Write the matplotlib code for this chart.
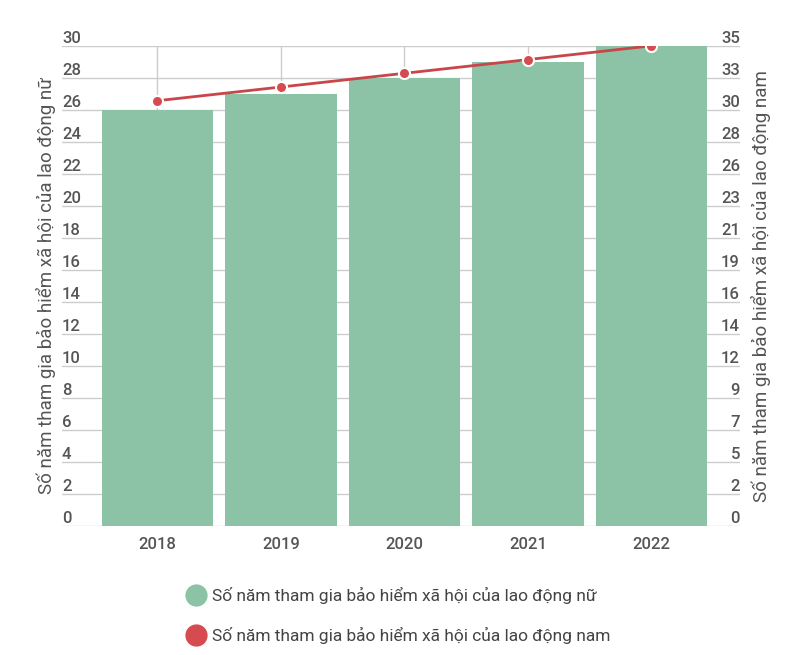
import numpy as np
import matplotlib.pyplot as plt
from matplotlib.lines import Line2D

plt.rcParams['font.family'] = ['Roboto', 'DejaVu Sans']

years = ['2018', '2019', '2020', '2021', '2022']
nu = [26, 27, 28, 29, 30]      # lao động nữ
nam = [31, 32, 33, 34, 35]     # lao động nam
left_ticks = np.arange(0, 31, 2)
right_ticks = np.linspace(0, 35, 16)

label_nu = 'Số năm tham gia bảo hiểm xã hội của lao động nữ'
label_nam = 'Số năm tham gia bảo hiểm xã hội của lao động nam'

green = '#8cc2a6'
red = '#d64b4f'
txt = '#555555'
grid = '#cccccc'

fig = plt.figure(figsize=(8, 6.55), dpi=100)
ax = fig.add_axes([0.0775, 0.197, 0.8475, 0.733])
x = np.arange(len(years))

ax.bar(x, nu, width=0.9, color=green, zorder=2)
ax.set_xlim(-0.773, 4.717)
ax.set_ylim(0, 30)
ax.set_yticks(left_ticks)
ax.set_xticks(x)
ax.set_xticklabels(years)
ax.grid(True, color=grid, linewidth=1, zorder=0)
ax.set_axisbelow(True)
for s in ax.spines.values():
    s.set_visible(False)
ax.tick_params(axis='y', length=0, pad=0, labelsize=12, labelcolor=txt)
ax.tick_params(axis='x', length=0, pad=8, labelsize=12, labelcolor=txt)
for lb in ax.get_yticklabels() + ax.get_xticklabels():
    lb.set_fontweight('medium')
for lb in ax.get_yticklabels():
    lb.set_ha('left')
    lb.set_va('bottom')
ax.set_ylabel(label_nu, fontsize=13.5, color=txt, labelpad=4)

ax2 = ax.twinx()
ax2.plot(x, nam, color='#c8454a', linewidth=2, marker='o', markersize=8,
         markerfacecolor=red, markeredgecolor='white', markeredgewidth=1.5, zorder=3)
ax2.set_ylim(0, 35)
ax2.set_yticks(right_ticks)
ax2.set_yticklabels([f'{v:.0f}' for v in right_ticks])
for s in ax2.spines.values():
    s.set_visible(False)
ax2.tick_params(axis='y', length=0, pad=0, labelsize=12, labelcolor=txt)
for lb in ax2.get_yticklabels():
    lb.set_ha('right')
    lb.set_va('bottom')
    lb.set_fontweight('medium')
ax2.set_ylabel(label_nam, fontsize=13.5, color=txt, rotation=90, labelpad=8)

handles = [
    Line2D([], [], linestyle='none', marker='o', markersize=15, color=green),
    Line2D([], [], linestyle='none', marker='o', markersize=15, color=red),
]
fig.legend(handles, [label_nu, label_nam], loc='upper left',
           bbox_to_anchor=(0.225, 0.114), frameon=False, fontsize=12.5,
           labelcolor='#444444', handlelength=1.0, handletextpad=0.45,
           labelspacing=1.3, borderaxespad=0)

fig.savefig('out.png', dpi=100, facecolor='white')
